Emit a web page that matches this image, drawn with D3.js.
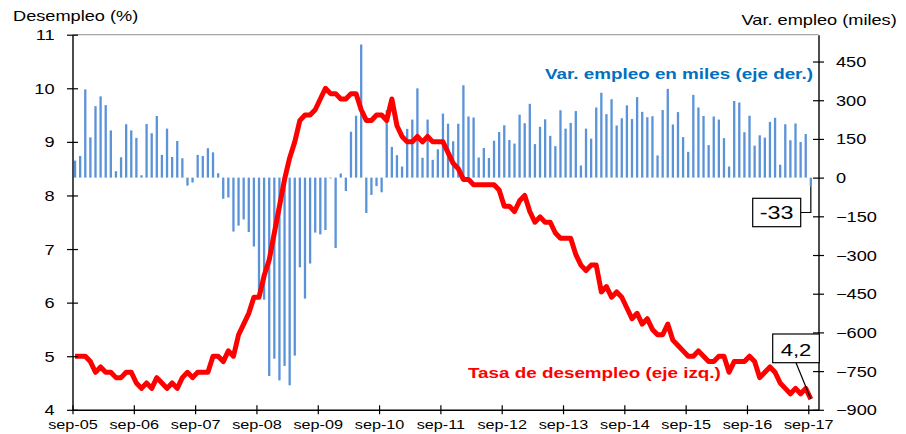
<!DOCTYPE html>
<html><head><meta charset="utf-8">
<script src="https://cdn.jsdelivr.net/npm/d3@7"></script>
<style>body{margin:0;background:#fff}svg{display:block}text{font-family:"Liberation Sans",Arial,sans-serif}</style>
</head><body><svg id="c" width="906" height="434"></svg>
<script>
// Monthly data, sep-05 .. sep-17
const unemployment = [
  5.0,5.0,5.0,4.9,
  4.7,4.8,4.7,4.7,4.6,4.6,4.7,4.7,4.5,4.4,4.5,4.4,
  4.6,4.5,4.4,4.5,4.4,4.6,4.7,4.6,4.7,4.7,4.7,5.0,
  5.0,4.9,5.1,5.0,5.4,5.6,5.8,6.1,6.1,6.5,6.8,7.3,
  7.8,8.3,8.7,9.0,9.4,9.5,9.5,9.6,9.8,10.0,9.9,9.9,
  9.8,9.8,9.9,9.9,9.6,9.4,9.4,9.5,9.5,9.4,9.8,9.3,
  9.1,9.0,9.0,9.1,9.0,9.1,9.0,9.0,9.0,8.8,8.6,8.5,
  8.3,8.3,8.2,8.2,8.2,8.2,8.2,8.1,7.8,7.8,7.7,7.9,
  8.0,7.7,7.5,7.6,7.5,7.5,7.3,7.2,7.2,7.2,6.9,6.7,
  6.6,6.7,6.7,6.2,6.3,6.1,6.2,6.1,5.9,5.7,5.8,5.6,
  5.7,5.5,5.4,5.4,5.6,5.3,5.2,5.1,5.0,5.0,5.1,5.0,
  4.9,4.9,5.0,5.0,4.7,4.9,4.9,4.9,5.0,4.9,4.6,4.7,
  4.8,4.7,4.5,4.4,4.3,4.4,4.3,4.4,4.2
];
const payrolls = [
  66,84,342,156,
  277,315,281,183,25,79,207,183,154,9,208,172,
  239,88,190,80,142,75,-31,-19,88,84,114,98,
  17,-82,-77,-209,-186,-162,-211,-267,-459,-473,-769,-702,
  -786,-730,-805,-690,-348,-469,-333,-213,-220,-203,-3,-273,
  16,-52,178,240,516,-137,-67,-33,-57,262,119,87,
  43,189,225,346,77,225,69,110,248,209,141,209,
  358,237,233,78,115,76,143,177,203,146,132,244,
  211,286,130,197,226,162,122,261,190,212,258,47,
  190,151,272,329,246,304,202,230,280,227,312,255,
  234,238,86,262,344,206,254,157,100,321,272,239,
  126,237,225,153,43,297,291,176,240,124,164,155,
  216,232,50,207,145,210,138,169,-33
];
const xTickLabels = ["sep-05","sep-06","sep-07","sep-08","sep-09","sep-10","sep-11","sep-12","sep-13","sep-14","sep-15","sep-16","sep-17"];
const leftTicks = [4,5,6,7,8,9,10,11];
const rightTicks = [-900,-750,-600,-450,-300,-150,0,150,300,450];

const S = 1.3; // horizontal text stretch
const FONT = '"Liberation Sans", Arial, sans-serif';
const svg = d3.select("#c");
const X0 = 72.5, X1 = 818.5, Y0 = 34.7, Y1 = 409.8;
const nSlots = 146;
const x = d3.scaleLinear().domain([0, nSlots]).range([X0, X1]);
const yL = d3.scaleLinear().domain([4, 11]).range([Y1, Y0]);
const yR = d3.scaleLinear().domain([-900, 554]).range([Y1, Y0]);

// top border
svg.append("line").attr("x1", X0).attr("x2", X1).attr("y1", Y0).attr("y2", Y0)
  .attr("stroke", "#a6a6a6").attr("stroke-width", 1.3);

// bars
const bw = 2.3;
svg.append("g").selectAll("rect").data(payrolls).join("rect")
  .attr("x", (d, i) => x(i + 0.5) - bw / 2).attr("width", bw)
  .attr("y", d => yR(Math.max(0, d)))
  .attr("height", d => Math.abs(yR(d) - yR(0)))
  .attr("fill", "#5b93d9");

// line
const line = d3.line().x((d, i) => x(i + 0.5)).y(d => yL(d));
svg.append("path").datum(unemployment).attr("d", line)
  .attr("fill", "none").attr("stroke", "#ff0000").attr("stroke-width", 5)
  .attr("stroke-linejoin", "round");

// axes
function styleAxis(g) {
  g.attr("font-family", FONT);
  g.select(".domain").attr("stroke", "#000").attr("stroke-width", 1.4);
  g.selectAll(".tick line").attr("stroke", "#000").attr("stroke-width", 1.2);
  g.selectAll(".tick text").attr("fill", "#000");
}
const gL = svg.append("g").attr("transform", `translate(${X0},0)`)
  .call(d3.axisLeft(yL).tickValues(leftTicks).tickSize(0).tickSizeOuter(0).tickFormat(d3.format("d")));
styleAxis(gL);
gL.attr("font-size", 14);
gL.selectAll(".tick line").attr("x1", -5.5).attr("x2", 5.5);
gL.selectAll(".tick text").attr("x", -18 / S).attr("dy", "0.36em").attr("transform", `scale(${S},1)`);

const gR = svg.append("g").attr("transform", `translate(${X1},0)`)
  .call(d3.axisRight(yR).tickValues(rightTicks).tickSize(0).tickSizeOuter(0).tickFormat(d3.format("d")));
styleAxis(gR);
gR.attr("font-size", 14);
gR.selectAll(".tick line").attr("x1", -5.5).attr("x2", 5.5);
gR.selectAll(".tick text").attr("x", 17.5 / S).attr("dy", "0.36em").attr("transform", `scale(${S},1)`);

const gB = svg.append("g").attr("transform", `translate(0,${Y1})`)
  .call(d3.axisBottom(x).tickValues(xTickLabels.map((d, i) => i * 12)).tickSize(0).tickSizeOuter(0)
    .tickFormat((d, i) => xTickLabels[i]));
styleAxis(gB);
gB.attr("font-size", 12.5);
gB.selectAll(".tick line").attr("y1", -4.5).attr("y2", 4.5);
gB.selectAll(".tick text").attr("y", 19).attr("dy", 0).attr("transform", `scale(${S},1)`);

// texts
function txt(px, py, str, o) {
  const g = svg.append("g").attr("transform", `translate(${px},${py}) scale(${S},1)`);
  return g.append("text").text(str).attr("font-size", o.size).attr("font-weight", o.weight || "normal")
    .attr("fill", o.fill || "#000").attr("text-anchor", o.anchor || "start").attr("font-family", FONT);
}
txt(13, 21, "Desempleo (%)", {size: 14});
txt(741.5, 25, "Var. empleo (miles)", {size: 14});
txt(545, 79, "Var. empleo en miles (eje der.)", {size: 14.5, weight: "bold", fill: "#0070c0"});
txt(468, 378.3, "Tasa de desempleo (eje izq.)", {size: 14.5, weight: "bold", fill: "#ff0000"});

// callouts
const last = payrolls.length - 1;
const lx = x(last + 0.5);
svg.append("polyline")
  .attr("points", [[800.7, 212.5], [lx, 212.5], [lx, yR(payrolls[last])]].map(p => p.join(",")).join(" "))
  .attr("fill", "none").attr("stroke", "#000").attr("stroke-width", 1.2);
svg.append("rect").attr("x", 752.7).attr("y", 198.3).attr("width", 48).attr("height", 28.4)
  .attr("fill", "#fff").attr("stroke", "#000").attr("stroke-width", 1.2);
txt(776.7, 219.3, String(payrolls[last]), {size: 18, anchor: "middle"});

svg.append("line").attr("x1", 796).attr("y1", 362.7).attr("x2", lx).attr("y2", yL(unemployment[last]))
  .attr("stroke", "#000").attr("stroke-width", 1.2);
svg.append("rect").attr("x", 772.7).attr("y", 334).attr("width", 46.6).attr("height", 28.7)
  .attr("fill", "#fff").attr("stroke", "#000").attr("stroke-width", 1.2);
txt(796, 356, String(unemployment[last]).replace(".", ","), {size: 17, anchor: "middle"});
</script></body></html>
